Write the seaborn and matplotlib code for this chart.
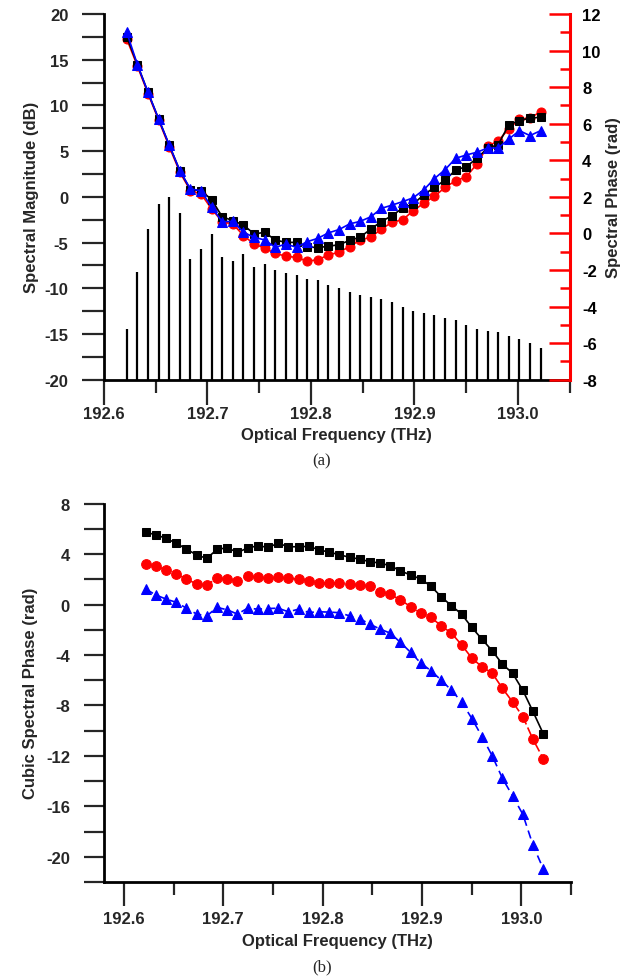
import numpy as np
import pandas as pd
import matplotlib
matplotlib.use("Agg")
import matplotlib.pyplot as plt
from matplotlib.ticker import MultipleLocator, FixedLocator, FormatStrFormatter
import seaborn as sns

# ---------------- data ----------------
freq_thz = [192.6220, 192.6323, 192.6425, 192.6528, 192.6630, 192.6733, 192.6835, 192.6938,
            192.7040, 192.7143, 192.7246, 192.7348, 192.7451, 192.7553, 192.7656, 192.7758,
            192.7861, 192.7964, 192.8066, 192.8169, 192.8271, 192.8374, 192.8476, 192.8579,
            192.8681, 192.8784, 192.8887, 192.8989, 192.9092, 192.9194, 192.9297, 192.9399,
            192.9502, 192.9604, 192.9707, 192.9810, 192.9912, 193.0015, 193.0117, 193.0220]

magnitude_db = [-14.4, -8.2, -3.5, -0.8, 0.0, -1.8, -6.8, -5.7, -4.1, -6.6,
                -7.0, -6.3, -7.7, -7.3, -8.0, -8.3, -8.6, -9.0, -9.1, -9.6,
                -10.0, -10.4, -10.7, -11.0, -11.2, -11.5, -12.1, -12.5, -12.7, -12.9,
                -13.3, -13.5, -14.0, -14.5, -14.7, -14.8, -15.2, -15.6, -16.0, -16.5]

phase_black = [10.75, 9.23, 7.72, 6.26, 4.84, 3.43, 2.40, 2.34, 1.85, 0.91,
               0.70, 0.46, -0.03, 0.06, -0.36, -0.49, -0.49, -0.73, -0.78, -0.70,
               -0.62, -0.38, -0.20, 0.24, 0.65, 0.97, 1.39, 1.61, 2.12, 2.52,
               2.92, 3.47, 3.65, 4.11, 4.66, 4.85, 5.95, 6.17, 6.31, 6.35]
phase_red = [10.63, 9.15, 7.65, 6.20, 4.75, 3.35, 2.34, 2.16, 1.34, 0.64,
             0.52, -0.12, -0.58, -0.80, -1.09, -1.25, -1.31, -1.52, -1.44, -1.18,
             -1.03, -0.72, -0.36, -0.21, 0.24, 0.61, 0.75, 1.24, 1.66, 2.03,
             2.52, 2.88, 3.10, 3.80, 4.76, 5.07, 5.71, 6.26, 6.30, 6.66]
phase_blue = [11.00, 9.23, 7.72, 6.26, 4.84, 3.43, 2.43, 2.34, 1.43, 0.64,
              0.66, 0.06, -0.21, -0.36, -0.76, -0.58, -0.76, -0.45, -0.27, 0.03,
              0.21, 0.52, 0.66, 0.91, 1.37, 1.55, 1.74, 1.95, 2.39, 3.00,
              3.49, 4.11, 4.29, 4.44, 4.67, 4.67, 5.16, 5.62, 5.35, 5.62]

cubic_black = [5.72, 5.53, 5.24, 4.85, 4.40, 3.92, 3.66, 4.37, 4.50, 4.13,
               4.48, 4.66, 4.53, 4.85, 4.58, 4.58, 4.61, 4.34, 4.15, 3.95,
               3.74, 3.60, 3.39, 3.29, 3.07, 2.67, 2.33, 2.02, 1.44, 0.61,
               -0.10, -0.76, -1.82, -2.75, -3.67, -4.73, -5.45, -6.80, -8.48, -10.23]
cubic_red = [3.21, 3.02, 2.76, 2.41, 2.02, 1.62, 1.54, 2.10, 2.02, 1.86,
             2.23, 2.15, 2.07, 2.15, 2.07, 2.02, 1.88, 1.70, 1.70, 1.70,
             1.62, 1.56, 1.44, 1.01, 0.80, 0.37, -0.18, -0.68, -1.03, -1.69,
             -2.27, -3.20, -4.25, -4.94, -5.44, -6.65, -7.72, -8.89, -10.68, -12.21]
cubic_blue = [1.22, 0.75, 0.43, 0.17, -0.29, -0.76, -0.90, -0.23, -0.42, -0.76,
              -0.29, -0.37, -0.32, -0.29, -0.58, -0.37, -0.63, -0.58, -0.60, -0.65,
              -0.90, -1.13, -1.56, -1.95, -2.27, -3.01, -3.80, -4.65, -5.26, -6.00,
              -6.80, -7.72, -9.04, -10.47, -12.00, -13.78, -15.18, -16.63, -19.07, -20.94]

top_xticks = [192.6, 192.7, 192.8, 192.9, 193.0]

# ---------------- style ----------------
sns.set_theme(style="ticks")
plt.rcParams['font.family'] = ['Liberation Sans', 'DejaVu Sans']
plt.rcParams['font.weight'] = 'bold'
plt.rcParams['axes.labelweight'] = 'bold'
plt.rcParams['axes.unicode_minus'] = False

fig = plt.figure(figsize=(6.3, 9.79), dpi=100)
W, H = 630, 979

def add_ax(l, r, t, b):
    return fig.add_axes([l / W, 1 - b / H, (r - l) / W, (b - t) / H])

# ---------------- panel (a) ----------------
ax1 = add_ax(104, 569.6, 15, 380.7)
ax2 = ax1.twinx()

ax1.vlines(freq_thz, -20, magnitude_db, color='black', linewidth=1.6)

df_top = pd.DataFrame({'f': freq_thz, 'black': phase_black, 'red': phase_red, 'blue': phase_blue})
sns.lineplot(data=df_top, x='f', y='red', ax=ax2, color='red', marker='o', markersize=6.5,
             markeredgecolor='red', linewidth=1.2, zorder=3)
sns.lineplot(data=df_top, x='f', y='black', ax=ax2, color='black', marker='s', markersize=5.5,
             markeredgecolor='black', linewidth=1.2, zorder=4)
sns.lineplot(data=df_top, x='f', y='blue', ax=ax2, color='blue', marker='^', markersize=7,
             markeredgecolor='blue', linewidth=1.2, zorder=5)

ax1.set_xlim(192.6, 193.05)
ax1.set_ylim(-20, 20)
ax2.set_ylim(-8, 12)

ax1.spines['top'].set_visible(False)
ax2.spines['top'].set_visible(False)
ax1.spines['right'].set_visible(False)
ax2.spines['left'].set_visible(False)
ax2.spines['bottom'].set_visible(False)
for sp in ['left', 'bottom']:
    ax1.spines[sp].set_linewidth(2.0)
    ax1.spines[sp].set_color('black')
ax2.spines['right'].set_linewidth(2.2)
ax2.spines['right'].set_color('red')

ax1.xaxis.set_major_locator(FixedLocator(top_xticks))
ax1.xaxis.set_minor_locator(FixedLocator([192.65, 192.75, 192.85, 192.95, 193.05]))
ax1.xaxis.set_major_formatter(FormatStrFormatter('%.1f'))
ax1.yaxis.set_major_locator(MultipleLocator(5))
ax1.yaxis.set_minor_locator(MultipleLocator(2.5))
ax1.tick_params(axis='x', which='major', direction='out', length=18, width=1.6, labelsize=12, pad=1)
ax1.tick_params(axis='x', which='minor', direction='out', length=9, width=1.6)
ax1.tick_params(axis='y', which='both', direction='out', length=15.5, width=1.6, labelsize=12, pad=10)

ax2.yaxis.set_major_locator(MultipleLocator(2))
ax2.yaxis.set_minor_locator(MultipleLocator(1))
ax2.tick_params(axis='y', which='major', direction='in', length=15, width=1.8, color='red',
                labelcolor='black', labelsize=12, pad=9)
ax2.tick_params(axis='y', which='minor', direction='in', length=7.5, width=1.8, color='red')

ax1.set_xlabel('Optical Frequency (THz)', fontsize=12, fontweight='bold', labelpad=4)
ax1.set_ylabel('Spectral Magnitude (dB)', fontsize=12, fontweight='bold', labelpad=4)
ax2.set_ylabel('Spectral Phase (rad)', fontsize=12, fontweight='bold', labelpad=4)
for lab in ax1.get_xticklabels() + ax1.get_yticklabels() + ax2.get_yticklabels():
    lab.set_fontweight('bold')

fig.text(322 / W, 1 - 461 / H, '(a)', ha='center', va='center', fontsize=12,
         family=['Liberation Serif', 'DejaVu Serif'], fontweight='normal')

# ---------------- panel (b) ----------------
ax3 = add_ax(104, 571, 504.6, 883)
df_bot = pd.DataFrame({'f': freq_thz, 'black': cubic_black, 'red': cubic_red, 'blue': cubic_blue})
sns.lineplot(data=df_bot, x='f', y='black', ax=ax3, color='black', marker='s', markersize=6,
             markeredgecolor='black', linewidth=1.2)
sns.lineplot(data=df_bot, x='f', y='red', ax=ax3, color='red', marker='o', markersize=7,
             markeredgecolor='red', linewidth=1.2, linestyle=(0, (7, 2)))
sns.lineplot(data=df_bot, x='f', y='blue', ax=ax3, color='blue', marker='^', markersize=7.5,
             markeredgecolor='blue', linewidth=1.2, linestyle=(0, (5, 3)))

ax3.set_xlim(192.58, 193.05)
ax3.set_ylim(-22, 8)
ax3.spines['top'].set_visible(False)
ax3.spines['right'].set_visible(False)
for sp in ['left', 'bottom']:
    ax3.spines[sp].set_linewidth(2.0)
    ax3.spines[sp].set_color('black')
ax3.xaxis.set_major_locator(FixedLocator(top_xticks))
ax3.xaxis.set_minor_locator(FixedLocator([192.65, 192.75, 192.85, 192.95, 193.05]))
ax3.xaxis.set_major_formatter(FormatStrFormatter('%.1f'))
ax3.yaxis.set_major_locator(MultipleLocator(4))
ax3.yaxis.set_minor_locator(MultipleLocator(2))
ax3.tick_params(axis='x', which='major', direction='out', length=17, width=1.6, labelsize=12, pad=4)
ax3.tick_params(axis='x', which='minor', direction='out', length=9, width=1.6)
ax3.tick_params(axis='y', which='both', direction='out', length=14.5, width=1.6, labelsize=12, pad=10)
ax3.set_xlabel('Optical Frequency (THz)', fontsize=12, fontweight='bold', labelpad=5)
ax3.set_ylabel('Cubic Spectral Phase (rad)', fontsize=12, fontweight='bold', labelpad=6)
for lab in ax3.get_xticklabels() + ax3.get_yticklabels():
    lab.set_fontweight('bold')

fig.text(322 / W, 1 - 967 / H, '(b)', ha='center', va='center', fontsize=12,
         family=['Liberation Serif', 'DejaVu Serif'], fontweight='normal')

fig.savefig('out.png', dpi=100)
